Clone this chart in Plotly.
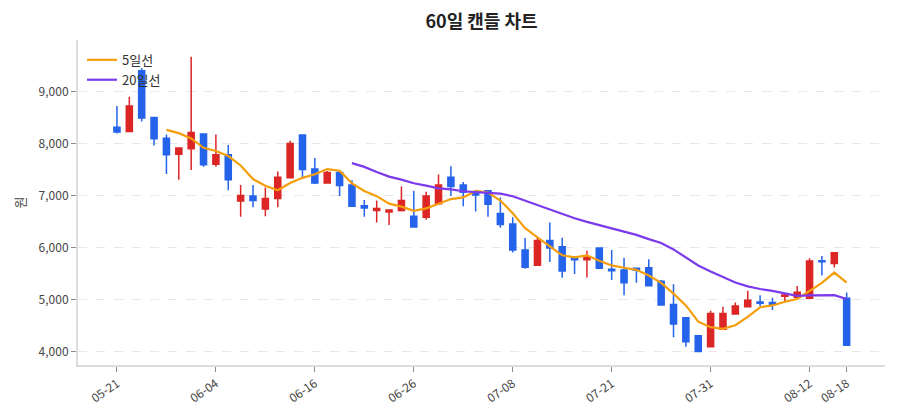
import pandas as pd
import plotly.graph_objects as go

# trading days (category axis)
DATES = [
    "05-21", "05-22", "05-23", "05-26", "05-27", "05-28", "05-29", "05-30",
    "06-04", "06-05", "06-06", "06-09", "06-10", "06-11", "06-12", "06-13",
    "06-16", "06-17", "06-18", "06-19", "06-20", "06-23", "06-24", "06-25",
    "06-26", "06-27", "06-30", "07-01", "07-02", "07-03", "07-04", "07-07",
    "07-08", "07-09", "07-10", "07-11", "07-14", "07-15", "07-16", "07-17",
    "07-21", "07-22", "07-23", "07-24", "07-25", "07-28", "07-29", "07-30",
    "07-31", "08-01", "08-04", "08-05", "08-06", "08-07", "08-08", "08-11",
    "08-12", "08-13", "08-14", "08-18",
]

OPEN = [
    8310, 8230, 9400, 8500, 8100, 7790, 7900, 8180, 7600, 7780,
    6890, 6990, 6740, 6940, 7340, 8160, 7510, 7240, 7440, 7200,
    6800, 6710, 6680, 6710, 6600, 6580, 6840, 7350, 7200, 7070,
    7090, 6650, 6450, 5950, 5655, 6130, 6010, 5810, 5760, 5990,
    5580, 5565, 5600, 5610, 5350, 4900, 4645, 4300, 4090, 4425,
    4720, 4860, 4950, 4940, 5060, 5040, 5020, 5745, 5690, 5020,
]
HIGH = [
    8720, 8900, 9450, 8510, 8170, 7920, 9670, 8190, 8170, 7970,
    7200, 7200, 7150, 7460, 8050, 8170, 7720, 7470, 7460, 7290,
    6910, 6900, 6730, 7170, 7090, 7070, 7400, 7560, 7260, 7090,
    7100, 6960, 6580, 6180, 6190, 6480, 6185, 5820, 5935, 6000,
    5950, 5800, 5610, 5770, 5370, 5290, 4650, 4300, 4780, 4860,
    4940, 5165, 5080, 5030, 5115, 5255, 5790, 5835, 5900, 5130,
]
LOW = [
    8190, 8220, 8420, 7960, 7410, 7300, 7490, 7550, 7550, 7100,
    6590, 6770, 6600, 6770, 7330, 7350, 7220, 7230, 6990, 6780,
    6590, 6480, 6430, 6690, 6380, 6530, 6830, 6990, 6790, 6690,
    6590, 6380, 5900, 5590, 5650, 5720, 5415, 5490, 5420, 5590,
    5370, 5080, 5320, 5250, 4880, 4270, 4090, 3990, 4085, 4420,
    4710, 4850, 4870, 4795, 4950, 5030, 5000, 5460, 5615, 4110,
]
CLOSE = [
    8220, 8720, 8490, 8090, 7780, 7910, 8210, 7590, 7780, 7300,
    7000, 6900, 6940, 7350, 8000, 7500, 7240, 7440, 7190, 6790,
    6760, 6750, 6720, 6900, 6390, 6990, 7200, 7170, 7060, 7010,
    6830, 6440, 5950, 5620, 6130, 5990, 5545, 5760, 5810, 5600,
    5550, 5320, 5560, 5260, 4890, 4525, 4185, 3995, 4730, 4730,
    4870, 4985, 4925, 4905, 5085, 5135, 5740, 5725, 5895, 4115,
]

TICK_IDX = [0, 8, 16, 24, 32, 40, 48, 56, 59]

UP_COLOR = "#dc2626"
DOWN_COLOR = "#2563eb"
MA5_COLOR = "#f59e0b"
MA20_COLOR = "#7c3aed"
FONT = "Noto Sans CJK KR"

df = pd.DataFrame({"date": DATES, "open": OPEN, "high": HIGH, "low": LOW, "close": CLOSE})
df["ma5"] = df["close"].rolling(5).mean()
df["ma20"] = df["close"].rolling(20).mean()

fig = go.Figure()

fig.add_trace(go.Candlestick(
    x=df["date"], open=df["open"], high=df["high"], low=df["low"], close=df["close"],
    increasing=dict(line=dict(color=UP_COLOR, width=1.5), fillcolor=UP_COLOR),
    decreasing=dict(line=dict(color=DOWN_COLOR, width=1.5), fillcolor=DOWN_COLOR),
    showlegend=False,
    name="캔들",
))

fig.add_trace(go.Scatter(x=df["date"], y=df["ma5"], mode="lines", name="5일선",
                         line=dict(color=MA5_COLOR, width=2.2)))
fig.add_trace(go.Scatter(x=df["date"], y=df["ma20"], mode="lines", name="20일선",
                         line=dict(color=MA20_COLOR, width=2.2)))

# page body adds an 8px offset, margins compensate for it
fig.update_layout(
    width=900, height=420,
    margin=dict(l=68, r=23, t=32, b=63),
    paper_bgcolor="#ffffff",
    plot_bgcolor="#ffffff",
    font=dict(family=FONT, size=12, color="#444"),
    title=dict(text="<b>60일 캔들 차트</b>", xref="paper", x=0.5, xanchor="center",
               y=0.967, yanchor="middle",
               font=dict(size=18, color="#222")),
    legend=dict(x=0.005, y=0.985, xanchor="left", yanchor="top",
                bgcolor="rgba(255,255,255,0)", font=dict(size=13, color="#333")),
    xaxis=dict(
        type="category",
        rangeslider=dict(visible=False),
        range=[-3.15, 62.1],
        tickmode="array",
        tickvals=[DATES[i] for i in TICK_IDX],
        ticktext=[DATES[i] for i in TICK_IDX],
        tickangle=-35,
        showgrid=False,
        showline=True, linecolor="#d9dce1", linewidth=2,
        ticks="outside", ticklen=5, tickcolor="#888",
        tickfont=dict(size=12, color="#444"),
    ),
    yaxis=dict(
        range=[3737, 9990],
        tickformat=",",
        dtick=1000,
        title=dict(text="원", font=dict(size=13, color="#444"), standoff=10),
        showgrid=True, gridcolor="#e5e7eb", griddash="dash", gridwidth=1,
        zeroline=False,
        showline=True, linecolor="#d9dce1", linewidth=2,
        ticks="outside", ticklen=5, tickcolor="#888",
        tickfont=dict(size=12, color="#444"),
    ),
)

fig.write_html("out.html")
